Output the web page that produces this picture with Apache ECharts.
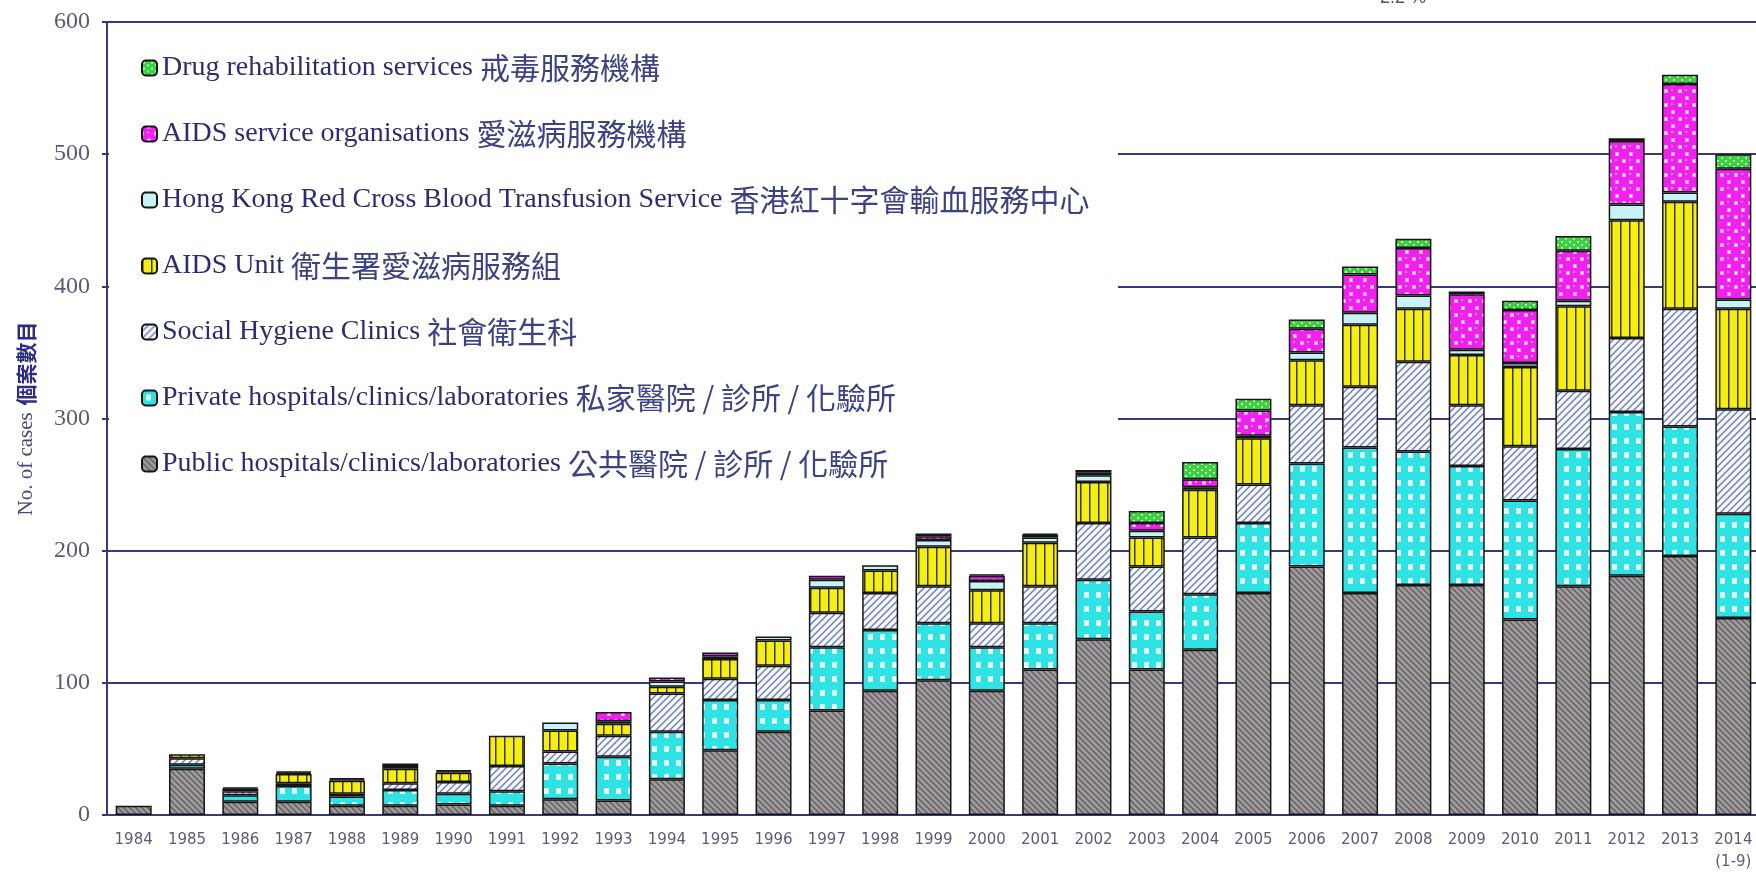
<!DOCTYPE html>
<html>
<head>
<meta charset="utf-8">
<title>HIV reports by source</title>
<script src="https://cdn.jsdelivr.net/npm/echarts@6/dist/echarts.min.js"></script>
<style>
  html, body { margin: 0; padding: 0; background: #fff; }
  #chart { width: 1756px; height: 874px; }
</style>
</head>
<body>
<div id="chart"></div>
<script>
// categories
const years = ['1984', '1985', '1986', '1987', '1988', '1989', '1990', '1991', '1992', '1993',
  '1994', '1995', '1996', '1997', '1998', '1999', '2000', '2001', '2002', '2003',
  '2004', '2005', '2006', '2007', '2008', '2009', '2010', '2011', '2012', '2013', '2014\n(1-9)']

// stacked from the bottom up
const publicCases   = [7, 35, 10, 10, 7, 7, 8, 7, 12, 11, 27, 49, 63, 79, 94, 102, 94, 110, 133, 110, 125, 168, 188, 168, 174, 174, 148, 173, 181, 196, 149]
const privateCases  = [0, 3, 5, 12, 7, 12, 8, 11, 27, 33, 36, 38, 24, 48, 46, 43, 33, 35, 45, 44, 42, 53, 78, 110, 101, 90, 90, 104, 124, 98, 79]
const socialCases   = [0, 5, 3, 2, 2, 5, 9, 19, 9, 16, 29, 16, 26, 26, 28, 28, 18, 28, 43, 34, 43, 29, 44, 46, 68, 46, 41, 44, 56, 89, 79]
const aidsUnitCases = [0, 3, 0, 7, 10, 11, 7, 23, 16, 9, 5, 15, 19, 19, 17, 30, 25, 33, 31, 22, 36, 35, 34, 47, 40, 38, 60, 64, 89, 81, 76]
const redCrossCases = [0, 0, 2, 1, 1, 2, 1, 0, 6, 2, 4, 2, 3, 6, 4, 5, 7, 4, 5, 5, 2, 2, 6, 9, 10, 4, 3, 4, 12, 7, 7]
const aidsOrgCases  = [0, 0, 1, 1, 1, 2, 1, 0, 0, 7, 3, 3, 0, 3, 0, 3, 4, 2, 2, 6, 6, 19, 18, 29, 36, 42, 40, 38, 48, 82, 99]
const drugRehCases  = [0, 0, 0, 0, 0, 0, 0, 0, 0, 0, 0, 0, 0, 0, 0, 2, 1, 1, 2, 9, 13, 9, 7, 6, 7, 2, 7, 11, 2, 7, 11]

const yTicks = [0, 100, 200, 300, 400, 500, 600]

const navy = '#38387a'

// fill patterns
function pattern ( w, h, draw ) {
  let c = document.createElement( 'canvas' )
  c.width = w
  c.height = h
  draw( c.getContext( '2d' ), w, h )
  return { image: c, repeat: 'repeat' }
}
function diag ( g, s, back ) {
  g.beginPath()
  if ( back ) {
    g.moveTo( 0, 0 ); g.lineTo( s, s )
    g.moveTo( -2, s - 2 ); g.lineTo( 2, s + 2 )
    g.moveTo( s - 2, -2 ); g.lineTo( s + 2, 2 )
  } else {
    g.moveTo( 0, s ); g.lineTo( s, 0 )
    g.moveTo( -2, 2 ); g.lineTo( 2, -2 )
    g.moveTo( s - 2, s + 2 ); g.lineTo( s + 2, s - 2 )
  }
  g.stroke()
}
const fills = {
  public: pattern( 6, 6, ( g, w ) => {
    g.fillStyle = '#a09a9c'; g.fillRect( 0, 0, w, w )
    g.strokeStyle = '#5e5e62'; g.lineWidth = 1.3; diag( g, w, true )
  } ),
  private: pattern( 12, 14, g => {
    g.fillStyle = '#2fe2e4'; g.fillRect( 0, 0, 12, 14 )
    g.fillStyle = '#dffafa'; g.fillRect( 4, 4, 5, 6 )
  } ),
  social: pattern( 7, 7, ( g, w ) => {
    g.fillStyle = '#f4f6ff'; g.fillRect( 0, 0, w, w )
    g.strokeStyle = '#6a78b0'; g.lineWidth = 1.3; diag( g, w, false )
  } ),
  aidsUnit: pattern( 9, 4, g => {
    g.fillStyle = '#f4ee12'; g.fillRect( 0, 0, 9, 4 )
    g.fillStyle = '#3a3a20'; g.fillRect( 0, 0, 1.5, 4 )
  } ),
  redCross: '#c8f3f6',
  aidsOrg: pattern( 14, 14, g => {
    g.fillStyle = '#ffffff'; g.fillRect( 0, 0, 14, 14 )
    g.fillStyle = '#f020ee'
    ;[ [ 7, 7 ], [ 0, 0 ], [ 14, 0 ], [ 0, 14 ], [ 14, 14 ] ].forEach( p => {
      g.beginPath(); g.arc( p[ 0 ], p[ 1 ], 5.6, 0, Math.PI * 2 ); g.fill()
    } )
    g.fillStyle = '#ff9cff'
    g.fillRect( 5, 5, 2, 2 )
  } ),
  drugReh: pattern( 8, 6, g => {
    g.fillStyle = '#36d43a'; g.fillRect( 0, 0, 8, 6 )
    g.fillStyle = '#e8ffe8'; g.fillRect( 1, 1, 2, 2 ); g.fillRect( 5, 4, 2, 1.5 )
  } )
}

const seriesDefs = [
  { name: 'Public hospitals/clinics/laboratories 公共醫院 / 診所 / 化驗所', data: publicCases, fill: fills.public },
  { name: 'Private hospitals/clinics/laboratories 私家醫院 / 診所 / 化驗所', data: privateCases, fill: fills.private },
  { name: 'Social Hygiene Clinics 社會衛生科', data: socialCases, fill: fills.social },
  { name: 'AIDS Unit 衛生署愛滋病服務組', data: aidsUnitCases, fill: fills.aidsUnit },
  { name: 'Hong Kong Red Cross Blood Transfusion Service 香港紅十字會輸血服務中心', data: redCrossCases, fill: fills.redCross },
  { name: 'AIDS service organisations 愛滋病服務機構', data: aidsOrgCases, fill: fills.aidsOrg },
  { name: 'Drug rehabilitation services 戒毒服務機構', data: drugRehCases, fill: fills.drugReh }
]

let chart = echarts.init( document.getElementById( 'chart' ), null, { renderer: 'canvas' } )

let option = {
  backgroundColor: '#ffffff',
  animation: false,
  grid: { left: 107, top: 22, width: 1653, bottom: 59, outerBoundsMode: 'none', containLabel: false },
  legend: {
    orient: 'vertical',
    left: 136,
    top: 48,
    itemWidth: 15,
    itemHeight: 15,
    itemGap: 36,
    selectedMode: false,
    data: seriesDefs.map( s => s.name ).reverse(),
    formatter: name => {
      let i = name.search( /[\u3400-\u9fff]/ )
      return '{en|' + name.slice( 0, i ) + '}{zh|' + name.slice( i ) + '}'
    },
    textStyle: {
      rich: {
        en: { fontFamily: 'Liberation Serif', fontSize: 28, color: '#2c2c70', lineHeight: 30 },
        zh: { fontFamily: 'Noto Sans CJK TC', fontSize: 30, color: '#3c4284', lineHeight: 30 }
      }
    }
  },
  graphic: [
    { type: 'rect', z: 1, shape: { x: 109, y: 24, width: 1009, height: 466 }, style: { fill: '#ffffff' } },
    { type: 'text', z: 5, left: 1380, top: -11, style: { text: '2.2 %', font: '18px "Liberation Sans"', fill: '#555' } }
  ],
  xAxis: {
    type: 'category',
    data: years,
    axisLine: { lineStyle: { color: navy, width: 2 } },
    axisTick: { inside: true, length: 4, lineStyle: { color: navy } },
    axisLabel: {
      interval: 0,
      margin: 14,
      fontFamily: 'DejaVu Sans',
      fontSize: 15,
      lineHeight: 22,
      color: '#5a5a7a'
    }
  },
  yAxis: {
    type: 'value',
    min: yTicks[ 0 ],
    max: yTicks[ yTicks.length - 1 ],
    interval: 100,
    name: '{a|No. of cases}  {b|個案數目}',
    nameLocation: 'middle',
    nameRotate: 90,
    nameGap: 70,
    nameTextStyle: {
      rich: {
        a: { fontFamily: 'Liberation Serif', fontSize: 21, color: '#4a4a7a' },
        b: { fontFamily: 'Noto Sans CJK TC', fontSize: 21, fontWeight: 'bold', color: '#2c2c80' }
      }
    },
    axisLine: { show: true, lineStyle: { color: navy, width: 2 } },
    axisTick: { show: true, length: 5, lineStyle: { color: navy, width: 2 } },
    axisLabel: {
      margin: 17,
      fontFamily: 'Liberation Serif',
      fontSize: 24,
      color: '#5a5a78'
    },
    splitLine: { lineStyle: { color: navy, width: 2 } }
  },
  series: seriesDefs.map( s => ( {
    name: s.name,
    type: 'bar',
    stack: 'cases',
    barWidth: 36,
    data: s.data.map( v => v || null ),
    itemStyle: { color: s.fill, borderColor: '#151515', borderWidth: 1.5 }
  } ) )
}

chart.setOption( option )
</script>
</body>
</html>
